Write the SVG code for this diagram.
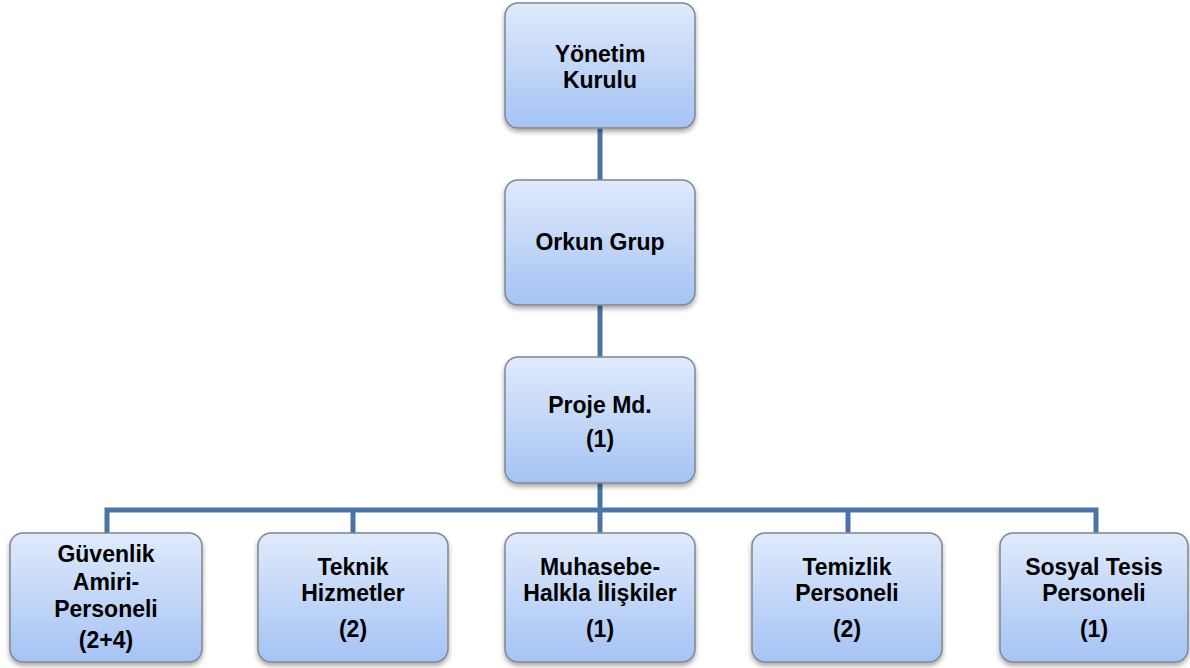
<svg xmlns="http://www.w3.org/2000/svg" width="1190" height="668" viewBox="0 0 1190 668">
<defs>
<linearGradient id="g" x1="0" y1="0" x2="0" y2="1">
<stop offset="0" stop-color="#e0eafb"/>
<stop offset="1" stop-color="#a5c3f4"/>
</linearGradient>
<filter id="sh" x="-10%" y="-10%" width="120%" height="130%">
<feDropShadow dx="0" dy="3" stdDeviation="2.5" flood-color="#000" flood-opacity="0.35"/>
</filter>
</defs>
<style>
.box{fill:url(#g);stroke:#7f8790;stroke-width:1.5;filter:url(#sh)}
.t{font-family:"Liberation Sans",Arial,sans-serif;font-weight:bold;font-size:23px;fill:#000;text-anchor:middle}
.c{stroke:#4a74a8;stroke-width:5;fill:none}
</style>
<rect width="1190" height="668" fill="#fff"/>
<g id="connectors">
<line class="c" x1="600" y1="126" x2="600" y2="182"/>
<line class="c" x1="600" y1="303" x2="600" y2="359"/>
<line class="c" x1="600" y1="481" x2="600" y2="535"/>
<polyline class="c" points="107,535 107,510 1096,510 1096,535"/>
<line class="c" x1="353" y1="510" x2="353" y2="535"/>
<line class="c" x1="848" y1="510" x2="848" y2="535"/>
</g>
<g id="yonetim">
<rect class="box" x="505" y="3" width="190" height="125" rx="13"/>
<text class="t" x="600" y="62">Yönetim</text>
<text class="t" x="600" y="88">Kurulu</text>
</g>
<g id="orkun">
<rect class="box" x="505" y="180" width="190" height="125" rx="13"/>
<text class="t" x="600" y="250">Orkun Grup</text>
</g>
<g id="proje">
<rect class="box" x="505" y="357" width="190" height="126" rx="13"/>
<text class="t" x="600" y="413">Proje Md.</text>
<text class="t" x="600" y="447">(1)</text>
</g>
<g id="guvenlik">
<rect class="box" x="10" y="533" width="192" height="129" rx="13"/>
<text class="t" x="106" y="562">Güvenlik</text>
<text class="t" x="106" y="590">Amiri-</text>
<text class="t" x="106" y="617">Personeli</text>
<text class="t" x="106" y="648">(2+4)</text>
</g>
<g id="teknik">
<rect class="box" x="258" y="533" width="190" height="129" rx="13"/>
<text class="t" x="353" y="575">Teknik</text>
<text class="t" x="353" y="601">Hizmetler</text>
<text class="t" x="353" y="637">(2)</text>
</g>
<g id="muhasebe">
<rect class="box" x="505" y="533" width="190" height="129" rx="13"/>
<text class="t" x="600" y="575">Muhasebe-</text>
<text class="t" x="600" y="601">Halkla İlişkiler</text>
<text class="t" x="600" y="637">(1)</text>
</g>
<g id="temizlik">
<rect class="box" x="752" y="533" width="190" height="129" rx="13"/>
<text class="t" x="847" y="575">Temizlik</text>
<text class="t" x="847" y="601">Personeli</text>
<text class="t" x="847" y="637">(2)</text>
</g>
<g id="sosyal">
<rect class="box" x="1000" y="533" width="188" height="129" rx="13"/>
<text class="t" x="1094" y="575">Sosyal Tesis</text>
<text class="t" x="1094" y="601">Personeli</text>
<text class="t" x="1094" y="637">(1)</text>
</g>
</svg>
